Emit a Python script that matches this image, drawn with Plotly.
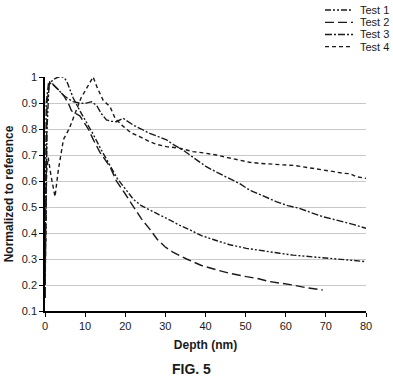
import plotly.graph_objects as go

# ---- data ----
test1_x = [0, 0.5, 1, 2, 3.3, 4.6, 5.4, 7, 8.7, 10, 12, 14, 16, 18, 20, 22, 24, 26.1, 28.5, 31.1, 33.5,
           36.1, 39, 41.9, 46, 50.2, 55.2, 58.5, 61.8, 65.5, 69.2, 72.6, 76, 80]
test1_y = [0.2, 0.8, 0.97, 0.99, 1.0, 1.0, 0.985, 0.92, 0.87, 0.835, 0.78, 0.72, 0.665, 0.61, 0.57, 0.53,
           0.505, 0.49, 0.47, 0.45, 0.43, 0.412, 0.39, 0.375, 0.355, 0.341, 0.328, 0.322, 0.315, 0.31,
           0.303, 0.299, 0.295, 0.29]

test2_x = [0, 0.5, 1.2, 2.5, 4.6, 5.8, 6.6, 8.7, 10.8, 12, 13.7, 16.2, 17.8, 20, 22, 24, 26.1, 28, 29.9,
           32, 35.3, 39, 42.8, 46, 50.2, 53, 56, 59, 61.8, 65, 67, 69.2]
test2_y = [0.15, 0.9, 0.985, 0.965, 0.93, 0.9, 0.87, 0.85, 0.80, 0.76, 0.71, 0.655, 0.60, 0.55, 0.50,
           0.455, 0.415, 0.375, 0.347, 0.325, 0.30, 0.275, 0.258, 0.245, 0.232, 0.225, 0.213, 0.207,
           0.20, 0.19, 0.185, 0.181]

test3_x = [0, 0.3, 0.9, 2, 3.4, 4.6, 5.9, 7, 8.5, 10, 11.6, 12.9, 14, 15.3, 16.5, 17.8, 19.5, 20.5, 22,
           24, 26.1, 28, 30.3, 32, 34.4, 37, 40.2, 43, 46, 48.5, 51, 54, 57.6, 60.5, 63.4, 66, 69.2,
           72, 74.2, 77, 80]
test3_y = [0.15, 0.9, 0.98, 0.97, 0.95, 0.93, 0.915, 0.905, 0.90, 0.898, 0.905, 0.89, 0.86, 0.835, 0.83,
           0.828, 0.841, 0.83, 0.815, 0.80, 0.783, 0.772, 0.758, 0.74, 0.719, 0.69, 0.655, 0.632, 0.61,
           0.59, 0.565, 0.545, 0.521, 0.505, 0.495, 0.48, 0.463, 0.452, 0.444, 0.432, 0.418]

test4_x = [0, 0.4, 0.8, 1.5, 2.5, 3.3, 4.6, 6, 7.5, 9, 10.5, 12, 13, 14.5, 16.2, 17.5, 19.5, 21.5, 23.6,
           26.1, 28, 30.3, 33.6, 36.9, 39.5, 42.7, 45.5, 48.5, 51, 53.5, 56.5, 59.3, 62, 64.3, 67,
           69.2, 72, 74.2, 76, 77.5, 80]
test4_y = [0.15, 0.64, 0.69, 0.62, 0.54, 0.64, 0.76, 0.80, 0.86, 0.92, 0.96, 1.0, 0.96, 0.91, 0.886,
           0.84, 0.81, 0.785, 0.771, 0.751, 0.74, 0.732, 0.726, 0.713, 0.708, 0.70, 0.69, 0.68, 0.672,
           0.668, 0.664, 0.662, 0.66, 0.655, 0.648, 0.642, 0.636, 0.63, 0.628, 0.617, 0.61]

series_names = ["Test 1", "Test 2", "Test 3", "Test 4"]
series_x = [test1_x, test2_x, test3_x, test4_x]
series_y = [test1_y, test2_y, test3_y, test4_y]
series_dash = ["6px,2px,2px,2px,2px,2px", "9px,4px", "7px,2px,2px,2px", "4px,3px"]

y_ticks = [0.1, 0.2, 0.3, 0.4, 0.5, 0.6, 0.7, 0.8, 0.9, 1.0]
y_tick_labels = ["0.1", "0.2", "0.3", "0.4", "0.5", "0.6", "0.7", "0.8", "0.9", "1"]
x_ticks = [0, 10, 20, 30, 40, 50, 60, 70, 80]

LINE_COLOR = "#1a1a1a"
W, H = 393, 380
ML, MR, MT, MB = 45, 27, 77, 69
PW, PH = W - ML - MR, H - MT - MB


def px_to_paper_x(px):
    return (px - ML) / PW


def px_to_paper_y(py):
    return (H - MB - py) / PH


fig = go.Figure()
for name, xs, ys, dash in zip(series_names, series_x, series_y, series_dash):
    fig.add_trace(go.Scatter(x=xs, y=ys, mode="lines", name=name, showlegend=False,
                             line=dict(color=LINE_COLOR, width=1.4, dash=dash)))

# compact legend (top right), drawn as line samples + labels
shapes = []
annotations = []
legend_rows_py = [10, 22.3, 34.5, 46.7]
for name, dash, py in zip(series_names, series_dash, legend_rows_py):
    yy = px_to_paper_y(py)
    shapes.append(dict(type="line", xref="paper", yref="paper",
                       x0=px_to_paper_x(325), x1=px_to_paper_x(353), y0=yy, y1=yy,
                       line=dict(color=LINE_COLOR, width=1.3, dash=dash)))
    annotations.append(dict(text=name, xref="paper", yref="paper",
                            x=px_to_paper_x(358), y=yy, xanchor="left", yanchor="middle",
                            showarrow=False, font=dict(size=11)))

annotations.append(dict(text="<b>FIG. 5</b>", xref="paper", yref="paper",
                        x=px_to_paper_x(191), y=px_to_paper_y(369),
                        xanchor="center", yanchor="middle", showarrow=False,
                        font=dict(size=14)))

font_family = "Liberation Sans, Arial, sans-serif"
fig.update_layout(
    width=W, height=H,
    margin=dict(l=ML, r=MR, t=MT, b=MB, autoexpand=False),
    paper_bgcolor="white", plot_bgcolor="white",
    font=dict(family=font_family, size=11, color="#1a1a1a"),
    showlegend=False,
    shapes=shapes,
    annotations=annotations,
    xaxis=dict(range=[0, 80], tickvals=x_ticks, showgrid=False, zeroline=False,
               showline=True, linecolor="black", linewidth=1.5, automargin=False,
               ticks="outside", ticklen=4, tickcolor="black",
               title=dict(text="<b>Depth (nm)</b>", font=dict(size=12), standoff=10)),
    yaxis=dict(range=[0.1, 1.0], tickvals=y_ticks, ticktext=y_tick_labels,
               showgrid=True, gridcolor="#c8c8c8", gridwidth=1, zeroline=False,
               showline=True, linecolor="black", linewidth=1.5, automargin=False,
               ticks="outside", ticklen=4, tickcolor="black",
               title=dict(text="<b>Normalized to reference</b>", font=dict(size=12), standoff=6)),
)

fig.write_html("out.html",
               config={"displayModeBar": False},
               post_script="document.body.style.margin='0';document.body.style.overflow='hidden';")
